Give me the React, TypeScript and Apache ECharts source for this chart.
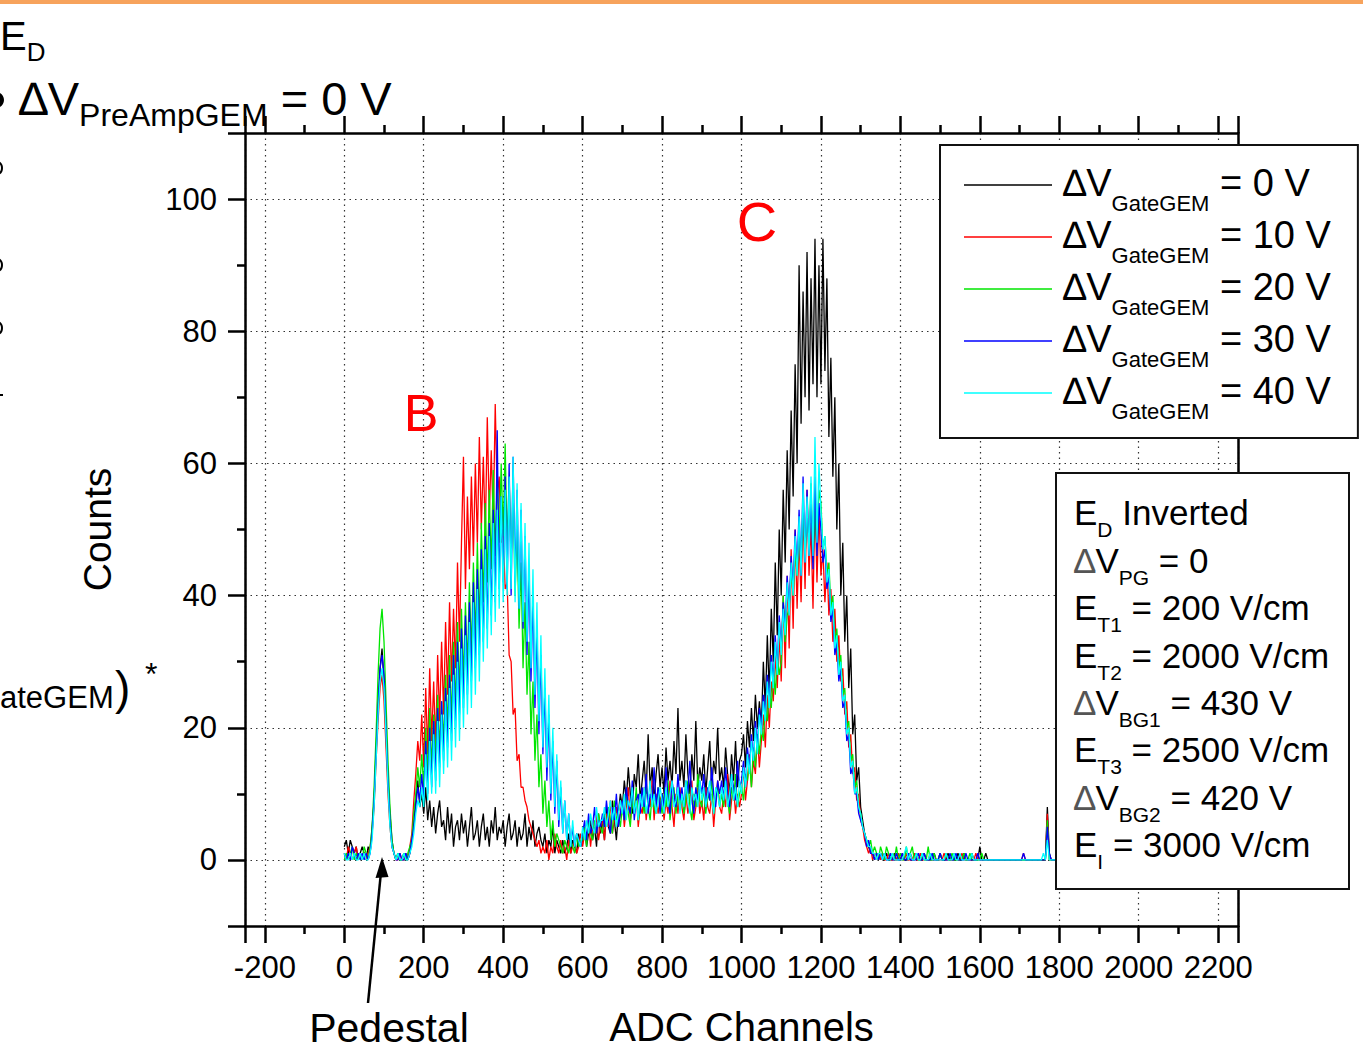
import React, { useEffect, useRef } from "react";
import * as echarts from "echarts";

// ADC channels per bin of the histograms below (bin i starts at channel i * BIN_WIDTH)
const BIN_WIDTH = 5;

const legendNames = ["0 V", "10 V", "20 V", "30 V", "40 V"];
const seriesColors = ["#000000", "#ff0000", "#00e600", "#0000ff", "#00ffff"];

// ΔV_GateGEM = 0 V (black)
const counts0V = [
  2, 3, 1, 3, 2, 1, 2, 0, 1, 2,
  1, 0, 2, 1, 5, 9, 17, 23, 29, 32,
  27, 19, 12, 7, 3, 1, 0, 1, 0, 0,
  1, 0, 0, 1, 3, 6, 9, 12, 8, 10,
  7, 11, 6, 9, 5, 8, 4, 7, 9, 5,
  6, 3, 8, 4, 7, 2, 5, 6, 3, 7,
  4, 6, 2, 5, 8, 3, 4, 6, 2, 5,
  7, 3, 5, 2, 6, 4, 8, 3, 5, 4,
  6, 2, 5, 7, 3, 4, 6, 2, 5, 3,
  4, 7, 2, 5, 3, 6, 2, 4, 5, 3,
  2, 4, 1, 3, 2, 5, 1, 3, 2, 1,
  3, 1, 2, 4, 1, 3, 2, 1, 4, 2,
  3, 5, 2, 4, 6, 3, 5, 2, 7, 4,
  6, 3, 8, 5, 4, 9, 6, 3, 7, 10,
  8, 12, 9, 14, 10, 7, 13, 11, 16, 9,
  12, 15, 10, 19, 11, 14, 9, 13, 16, 11,
  14, 10, 17, 12, 15, 11, 18, 13, 23, 12,
  15, 11, 19, 13, 10, 16, 12, 21, 11, 14,
  12, 16, 10, 14, 18, 11, 15, 13, 20, 12,
  14, 11, 17, 13, 10, 16, 12, 18, 11, 15,
  16, 19, 14, 21, 17, 23, 18, 25, 20, 24,
  20, 30, 23, 34, 25, 38, 30, 45, 34, 50,
  40, 56, 45, 62, 50, 68, 55, 75, 60, 90,
  66, 86, 70, 92, 68, 88, 72, 94, 70, 90,
  72, 94, 74, 88, 64, 76, 58, 70, 50, 60,
  40, 48, 33, 40, 26, 32, 19, 22, 12, 14,
  8, 6, 4, 3, 2, 1, 1, 0, 1, 0,
  1, 0, 0, 1, 0, 0, 0, 1, 0, 0,
  0, 1, 0, 0, 0, 1, 0, 0, 1, 0,
  0, 0, 1, 0, 0, 0, 0, 1, 0, 0,
  1, 0, 0, 0, 1, 0, 0, 0, 0, 1,
  0, 0, 1, 0, 0, 0, 1, 0, 0, 0,
  2, 0, 0, 1, 0, 0, 0, 0, 0, 0,
  0, 0, 0, 0, 0, 0, 0, 0, 0, 0,
  0, 0, 0, 0, 0, 0, 0, 0, 0, 0,
  0, 0, 0, 0, 8, 1, 0, 0, 0, 0,
];

// ΔV_GateGEM = 10 V (red)
const counts10V = [
  1, 0, 2, 1, 0, 1, 2, 0, 1, 0,
  1, 0, 1, 2, 4, 8, 15, 21, 26, 28,
  24, 17, 10, 5, 2, 1, 0, 0, 1, 0,
  0, 1, 0, 2, 4, 9, 13, 18, 15, 22,
  14, 26, 16, 29, 18, 27, 17, 31, 21, 33,
  22, 36, 25, 39, 27, 38, 29, 45, 33, 48,
  61, 41, 55, 44, 58, 46, 60, 48, 64, 50,
  61, 49, 67, 52, 62, 51, 69, 55, 58, 48,
  50, 41, 42, 31, 30, 22, 23, 15, 16, 11,
  11, 9, 8, 6, 5, 4, 3, 2, 3, 1,
  2, 1, 3, 0, 2, 1, 4, 2, 1, 3,
  1, 2, 0, 3, 1, 2, 3, 1, 2, 4,
  2, 4, 3, 6, 2, 5, 4, 7, 3, 5,
  6, 3, 7, 5, 9, 4, 6, 8, 5, 7,
  9, 5, 8, 11, 6, 9, 7, 10, 5, 8,
  7, 11, 6, 9, 8, 12, 6, 10, 7, 9,
  10, 6, 9, 7, 12, 8, 5, 10, 7, 11,
  8, 6, 10, 7, 9, 12, 6, 8, 11, 7,
  9, 6, 11, 8, 7, 10, 5, 9, 12, 8,
  7, 10, 8, 13, 6, 9, 11, 7, 10, 8,
  10, 14, 9, 12, 16, 11, 15, 13, 19, 14,
  18, 22, 17, 25, 20, 27, 24, 31, 26, 34,
  27, 40, 29, 43, 32, 47, 35, 50, 38, 49,
  39, 53, 41, 56, 43, 51, 38, 55, 42, 53,
  43, 47, 39, 45, 37, 41, 33, 38, 30, 34,
  27, 29, 22, 24, 17, 19, 13, 14, 9, 10,
  6, 5, 3, 2, 1, 2, 0, 1, 0, 1,
  0, 1, 0, 0, 1, 0, 0, 0, 0, 1,
  0, 0, 0, 1, 0, 0, 0, 1, 0, 0,
  1, 0, 0, 0, 0, 1, 0, 0, 0, 0,
  0, 0, 1, 0, 0, 0, 0, 1, 0, 0,
  0, 1, 0, 0, 0, 0, 0, 0, 1, 0,
  0, 0, 0, 0, 0, 0, 0, 0, 0, 0,
  0, 0, 0, 0, 0, 0, 0, 0, 0, 0,
  0, 0, 1, 0, 0, 0, 0, 0, 0, 0,
  0, 0, 0, 0, 7, 0, 0, 0, 0, 0,
];

// ΔV_GateGEM = 20 V (green)
const counts20V = [
  0, 1, 0, 1, 2, 0, 1, 0, 1, 0,
  2, 1, 0, 2, 5, 11, 19, 28, 35, 38,
  33, 24, 15, 8, 3, 1, 0, 1, 0, 0,
  1, 0, 1, 2, 3, 7, 10, 14, 11, 16,
  11, 20, 13, 23, 14, 22, 15, 25, 17, 24,
  18, 28, 20, 31, 21, 33, 23, 36, 25, 38,
  27, 39, 29, 42, 31, 45, 33, 48, 35, 51,
  39, 54, 42, 56, 44, 59, 46, 58, 48, 60,
  49, 63, 47, 58, 45, 56, 40, 50, 35, 45,
  29, 39, 25, 33, 19, 27, 15, 22, 11, 16,
  7, 12, 5, 9, 3, 6, 2, 4, 3, 2,
  1, 3, 2, 1, 3, 2, 1, 4, 2, 3,
  3, 5, 2, 6, 4, 3, 6, 4, 7, 5,
  4, 7, 5, 8, 6, 4, 9, 6, 7, 5,
  8, 6, 10, 7, 5, 9, 7, 11, 6, 8,
  9, 7, 12, 8, 6, 10, 8, 7, 11, 9,
  7, 10, 8, 12, 6, 9, 11, 7, 10, 8,
  10, 7, 9, 12, 8, 6, 10, 8, 13, 9,
  8, 11, 7, 10, 9, 12, 7, 9, 11, 8,
  10, 8, 12, 9, 7, 11, 9, 13, 8, 10,
  11, 9, 13, 12, 15, 11, 17, 14, 19, 16,
  20, 18, 23, 21, 26, 23, 29, 25, 31, 28,
  30, 40, 33, 37, 38, 44, 40, 47, 43, 50,
  44, 54, 46, 52, 48, 57, 45, 53, 47, 56,
  54, 47, 49, 43, 45, 38, 40, 33, 35, 29,
  31, 25, 26, 20, 21, 15, 16, 11, 12, 8,
  7, 5, 4, 3, 2, 3, 1, 2, 1, 0,
  2, 1, 0, 2, 1, 0, 1, 0, 2, 0,
  1, 0, 0, 2, 0, 1, 2, 0, 1, 0,
  0, 1, 0, 0, 2, 0, 0, 1, 0, 0,
  1, 0, 0, 1, 0, 0, 1, 0, 0, 0,
  0, 0, 1, 0, 0, 1, 0, 0, 0, 0,
  0, 1, 0, 0, 0, 0, 0, 0, 0, 0,
  0, 0, 0, 0, 0, 0, 0, 0, 0, 0,
  0, 0, 0, 0, 0, 0, 0, 0, 0, 0,
  0, 0, 0, 0, 6, 0, 0, 0, 0, 0,
];

// ΔV_GateGEM = 30 V (blue)
const counts30V = [
  1, 0, 1, 0, 2, 1, 0, 1, 0, 1,
  0, 1, 0, 1, 4, 9, 16, 23, 29, 31,
  28, 20, 12, 6, 2, 1, 0, 0, 1, 0,
  0, 1, 0, 1, 3, 5, 8, 11, 9, 13,
  9, 18, 10, 20, 11, 21, 12, 23, 14, 24,
  15, 26, 17, 28, 18, 31, 20, 33, 22, 35,
  23, 37, 25, 39, 27, 42, 29, 44, 31, 47,
  33, 49, 35, 51, 37, 53, 39, 65, 41, 55,
  42, 58, 41, 60, 40, 61, 42, 56, 38, 53,
  35, 49, 31, 44, 27, 40, 23, 35, 19, 31,
  16, 26, 12, 22, 9, 18, 7, 15, 5, 11,
  4, 9, 3, 7, 2, 5, 2, 4, 3, 2,
  4, 6, 3, 7, 4, 5, 8, 4, 6, 5,
  7, 5, 9, 6, 4, 8, 6, 10, 5, 7,
  9, 6, 11, 8, 7, 12, 6, 9, 10, 7,
  11, 8, 13, 7, 10, 9, 14, 8, 11, 7,
  10, 8, 14, 9, 7, 12, 10, 8, 13, 9,
  11, 8, 12, 10, 15, 9, 7, 11, 9, 12,
  10, 13, 8, 11, 9, 14, 10, 8, 12, 10,
  12, 9, 14, 10, 8, 13, 11, 9, 15, 11,
  12, 15, 11, 17, 14, 19, 15, 21, 17, 23,
  20, 25, 22, 28, 24, 31, 27, 34, 29, 37,
  32, 39, 35, 43, 38, 46, 41, 50, 44, 53,
  43, 58, 45, 56, 46, 55, 44, 58, 46, 54,
  50, 45, 47, 41, 43, 36, 38, 31, 33, 27,
  29, 23, 24, 18, 19, 13, 14, 10, 10, 7,
  6, 5, 4, 2, 3, 1, 1, 0, 1, 0,
  1, 0, 1, 0, 0, 1, 0, 0, 1, 0,
  0, 1, 0, 0, 1, 0, 0, 0, 0, 1,
  0, 0, 1, 0, 0, 0, 1, 0, 0, 0,
  1, 0, 0, 0, 0, 1, 0, 0, 1, 0,
  0, 0, 0, 1, 0, 0, 0, 0, 0, 1,
  0, 0, 0, 0, 0, 0, 0, 0, 0, 0,
  0, 0, 0, 0, 0, 0, 0, 0, 0, 0,
  0, 0, 1, 0, 0, 0, 0, 0, 0, 0,
  0, 0, 0, 0, 5, 1, 0, 0, 0, 0,
];

// ΔV_GateGEM = 40 V (cyan)
const counts40V = [
  1, 0, 0, 1, 0, 1, 0, 0, 1, 0,
  1, 0, 0, 1, 3, 8, 15, 22, 27, 29,
  26, 19, 11, 5, 2, 1, 0, 1, 0, 0,
  1, 0, 0, 1, 2, 4, 7, 9, 8, 11,
  8, 16, 9, 18, 10, 19, 10, 21, 11, 22,
  13, 24, 14, 26, 15, 28, 17, 30, 18, 32,
  20, 34, 22, 36, 23, 39, 25, 41, 27, 44,
  30, 47, 32, 49, 34, 51, 36, 53, 38, 55,
  39, 56, 40, 58, 41, 61, 39, 57, 38, 54,
  36, 51, 33, 48, 29, 44, 25, 39, 21, 34,
  17, 29, 14, 25, 10, 20, 8, 16, 6, 12,
  4, 9, 3, 7, 2, 6, 2, 4, 3, 2,
  5, 3, 6, 4, 7, 5, 4, 8, 5, 6,
  6, 8, 5, 7, 9, 6, 8, 5, 7, 9,
  7, 10, 6, 9, 8, 11, 7, 9, 6, 10,
  8, 11, 7, 9, 12, 8, 10, 7, 9, 11,
  9, 7, 11, 8, 10, 12, 8, 9, 11, 7,
  10, 8, 12, 9, 7, 11, 9, 10, 8, 12,
  9, 11, 8, 10, 12, 9, 7, 11, 10, 8,
  11, 9, 12, 8, 10, 13, 9, 11, 8, 12,
  10, 14, 11, 16, 13, 18, 15, 20, 16, 22,
  19, 24, 21, 27, 23, 30, 26, 33, 28, 36,
  31, 38, 34, 42, 37, 45, 40, 49, 43, 52,
  43, 57, 45, 55, 46, 58, 46, 64, 48, 60,
  53, 47, 49, 42, 44, 37, 39, 32, 34, 28,
  30, 24, 25, 19, 20, 14, 15, 10, 11, 8,
  7, 5, 4, 3, 2, 2, 1, 1, 0, 1,
  1, 0, 1, 0, 0, 0, 1, 0, 0, 0,
  0, 0, 1, 2, 0, 1, 0, 0, 1, 0,
  0, 1, 0, 0, 0, 1, 0, 0, 0, 0,
  0, 0, 0, 1, 0, 0, 0, 1, 0, 0,
  1, 0, 0, 0, 0, 0, 1, 0, 0, 0,
  0, 0, 0, 0, 0, 0, 0, 0, 0, 0,
  0, 0, 0, 0, 0, 0, 0, 0, 0, 0,
  0, 0, 0, 0, 0, 0, 0, 0, 0, 0,
  0, 0, 1, 0, 3, 0, 0, 0, 0, 0,
];

const allCounts = [counts0V, counts10V, counts20V, counts30V, counts40V];

const infoLines = [
  "{m|E}{s|D}{m| Inverted}",
  "{d|∆}{m|V}{s|PG}{m| = 0}",
  "{m|E}{s|T1}{m| = 200 V/cm}",
  "{m|E}{s|T2}{m| = 2000 V/cm}",
  "{d|∆}{m|V}{s|BG1}{m| = 430 V}",
  "{m|E}{s|T3}{m| = 2500 V/cm}",
  "{d|∆}{m|V}{s|BG2}{m| = 420 V}",
  "{m|E}{s|I}{m| = 3000 V/cm}",
];

const FONT = "'Liberation Sans', Arial, Helvetica, sans-serif";

export default function App() {
  const ref = useRef<HTMLDivElement>(null);

  useEffect(() => {
    if (!ref.current) return;
    const chart = echarts.init(ref.current, undefined, { renderer: "svg" });

    const axisLineStyle = { color: "#000", width: 2.5 };
    const gridLineStyle = { type: [1.5, 4], color: "#333", width: 1.2 };

    const series = allCounts.map((vals, si) => ({
      name: legendNames[si],
      type: "line",
      data: vals.map((v, i) => [i * BIN_WIDTH, v]),
      symbol: "none",
      showSymbol: false,
      silent: true,
      lineStyle: { color: seriesColors[si], width: 1.3 },
      itemStyle: { color: seriesColors[si] },
      z: 2 + si,
    }));

    const option: any = {
      animation: false,
      backgroundColor: "#fff",
      grid: { left: 245, top: 133, right: 125, bottom: 123, containLabel: false },
      xAxis: [
        {
          type: "value",
          position: "bottom",
          min: -250,
          max: 2250,
          splitNumber: 12,
          name: "ADC Channels",
          nameLocation: "middle",
          nameGap: 81,
          nameTextStyle: { fontSize: 40, fontFamily: FONT, color: "#000" },
          axisLine: { show: true, onZero: false, lineStyle: axisLineStyle },
          axisTick: { show: true, inside: false, length: 17, lineStyle: axisLineStyle },
          minorTick: { show: true, splitNumber: 2, length: 8, lineStyle: axisLineStyle },
          axisLabel: {
            show: true,
            fontSize: 31,
            fontFamily: FONT,
            color: "#000",
            margin: 26,
            showMinLabel: false,
            showMaxLabel: false,
            formatter: (v: number) => String(v),
          },
          splitLine: { show: true, lineStyle: gridLineStyle },
        },
        {
          type: "value",
          position: "top",
          min: -250,
          max: 2250,
          splitNumber: 12,
          axisLine: { show: true, onZero: false, lineStyle: axisLineStyle },
          axisTick: { show: true, inside: false, length: 17, lineStyle: axisLineStyle },
          minorTick: { show: true, splitNumber: 2, length: 8, lineStyle: axisLineStyle },
          axisLabel: { show: false },
          splitLine: { show: false },
        },
      ],
      yAxis: [
        {
          type: "value",
          position: "left",
          min: -10,
          max: 110,
          splitNumber: 6,
          name: "Counts",
          nameLocation: "middle",
          nameGap: 128,
          nameRotate: 90,
          nameTextStyle: { fontSize: 39, fontFamily: FONT, color: "#000" },
          axisLine: { show: true, onZero: false, lineStyle: axisLineStyle },
          axisTick: { show: true, inside: false, length: 17, lineStyle: axisLineStyle },
          minorTick: { show: true, splitNumber: 2, length: 8, lineStyle: axisLineStyle },
          axisLabel: {
            show: true,
            fontSize: 31,
            fontFamily: FONT,
            color: "#000",
            margin: 28,
            showMinLabel: false,
            showMaxLabel: false,
            formatter: (v: number) => String(v),
          },
          splitLine: { show: true, lineStyle: gridLineStyle },
        },
        {
          type: "value",
          position: "right",
          min: -10,
          max: 110,
          splitNumber: 6,
          axisLine: { show: true, onZero: false, lineStyle: axisLineStyle },
          axisTick: { show: false },
          axisLabel: { show: false },
          splitLine: { show: false },
        },
      ],
      legend: {
        show: true,
        orient: "vertical",
        left: 940,
        top: 145,
        icon: "rect",
        itemWidth: 88,
        itemHeight: 1.5,
        itemGap: -6,
        padding: [11, 27, 16, 24],
        backgroundColor: "#fff",
        borderColor: "#111",
        borderWidth: 2,
        borderRadius: 0,
        selectedMode: false,
        data: legendNames,
        formatter: (name: string) => `{dv|∆V}{sub|GateGEM}{eq| = ${name}}`,
        textStyle: {
          color: "#000",
          fontFamily: FONT,
          fontSize: 38,
          rich: {
            dv: { fontSize: 38, fontFamily: FONT, color: "#000", verticalAlign: "top", padding: [8, 0, 0, 6], lineHeight: 58 },
            sub: { fontSize: 22, fontFamily: FONT, color: "#000", verticalAlign: "bottom", lineHeight: 58 },
            eq: { fontSize: 38, fontFamily: FONT, color: "#000", verticalAlign: "top", padding: [8, 0, 0, 0], lineHeight: 58 },
          },
        },
      },
      series,
      graphic: {
        elements: [
          // slide accent bar
          { type: "rect", z: 100, shape: { x: 0, y: 0, width: 1363, height: 4 }, style: { fill: "#F7A35C" } },
          // E_D (slide text at the left edge)
          {
            type: "text", z: 100, x: 0, y: 16,
            style: {
              text: "{m|E}{s|D}",
              fill: "#000",
              align: "left", verticalAlign: "top", textAlign: "left", textVerticalAlign: "top",
              rich: {
                m: { fontSize: 40, fontFamily: FONT, fill: "#000", verticalAlign: "top", lineHeight: 49 },
                s: { fontSize: 26, fontFamily: FONT, fill: "#000", verticalAlign: "bottom", lineHeight: 49 },
              },
            },
          },
          { type: "circle", z: 100, shape: { cx: -4, cy: 100, r: 8 }, style: { fill: "#000" } },
          {
            type: "text", z: 100, x: 19, y: 74.5,
            style: {
              text: "{m|∆V}{s|PreAmpGEM}{m| = 0 V}",
              fill: "#000",
              align: "left", verticalAlign: "top", textAlign: "left", textVerticalAlign: "top",
              rich: {
                m: { fontSize: 47, fontFamily: FONT, fill: "#000", verticalAlign: "top", lineHeight: 56.5 },
                s: { fontSize: 32, fontFamily: FONT, fill: "#000", verticalAlign: "bottom", lineHeight: 56.5 },
              },
            },
          },
          // clipped slide glyphs at the left edge
          { type: "arc", z: 100, shape: { cx: -5, cy: 168, r: 7, startAngle: -1.2, endAngle: 1.2 }, style: { stroke: "#000", lineWidth: 2, fill: "none" } },
          { type: "arc", z: 100, shape: { cx: -5, cy: 265, r: 7, startAngle: -1.2, endAngle: 1.2 }, style: { stroke: "#000", lineWidth: 2, fill: "none" } },
          { type: "arc", z: 100, shape: { cx: -5, cy: 328, r: 7, startAngle: -1.2, endAngle: 1.2 }, style: { stroke: "#000", lineWidth: 2, fill: "none" } },
          { type: "rect", z: 100, shape: { x: 0, y: 394, width: 3, height: 2 }, style: { fill: "#000" } },
          {
            type: "text", z: 100, x: 0, y: 697,
            style: { text: "ateGEM", fontSize: 31, fontFamily: FONT, fill: "#000", align: "left", verticalAlign: "middle", textAlign: "left", textVerticalAlign: "middle" },
          },
          {
            type: "text", z: 100, x: 115, y: 688,
            style: { text: ")", fontSize: 46, fontFamily: FONT, fill: "#000", align: "left", verticalAlign: "middle", textAlign: "left", textVerticalAlign: "middle" },
          },
          {
            type: "text", z: 100, x: 145, y: 674,
            style: { text: "*", fontSize: 32, fontFamily: FONT, fill: "#000", align: "left", verticalAlign: "middle", textAlign: "left", textVerticalAlign: "middle" },
          },
          // peak labels
          {
            type: "text", z: 100, x: 421, y: 413,
            style: { text: "B", fontSize: 52, fontFamily: FONT, fill: "#ff0000", align: "center", verticalAlign: "middle", textAlign: "center", textVerticalAlign: "middle" },
          },
          {
            type: "text", z: 100, x: 757, y: 221,
            style: { text: "C", fontSize: 56, fontFamily: FONT, fill: "#ff0000", align: "center", verticalAlign: "middle", textAlign: "center", textVerticalAlign: "middle" },
          },
          // pedestal annotation
          {
            type: "text", z: 100, x: 389, y: 1028,
            style: { text: "Pedestal", fontSize: 41, fontFamily: FONT, fill: "#000", align: "center", verticalAlign: "middle", textAlign: "center", textVerticalAlign: "middle" },
          },
          { type: "line", z: 100, shape: { x1: 368, y1: 1003, x2: 381, y2: 872 }, style: { stroke: "#000", lineWidth: 2.5 } },
          { type: "polygon", z: 100, shape: { points: [[382, 857], [375.5, 878], [388.5, 877]] }, style: { fill: "#000" } },
          // parameter box
          { type: "rect", z: 100, shape: { x: 1056, y: 473, width: 293, height: 416 }, style: { fill: "#fff", stroke: "#111", lineWidth: 2 } },
          {
            type: "text", z: 101, x: 1074, y: 493,
            style: {
              text: infoLines.join("\n"),
              fill: "#000",
              align: "left", verticalAlign: "top", textAlign: "left", textVerticalAlign: "top",
              rich: {
                m: { fontSize: 35, fontFamily: FONT, fill: "#000", verticalAlign: "top", padding: [2.4, 0, 0, 0], lineHeight: 47.4 },
                d: { fontSize: 35, fontFamily: FONT, fill: "#555", verticalAlign: "top", padding: [2.4, 0, 0, 0], lineHeight: 47.4 },
                s: { fontSize: 21, fontFamily: FONT, fill: "#000", verticalAlign: "bottom", lineHeight: 47.4 },
              },
            },
          },
        ],
      },
    };

    chart.setOption(option);
    return () => {
      chart.dispose();
    };
  }, []);

  return (
    <div
      ref={ref}
      style={{ position: "fixed", left: 0, top: 0, width: "1363px", height: "1052px", background: "#fff" }}
    />
  );
}
